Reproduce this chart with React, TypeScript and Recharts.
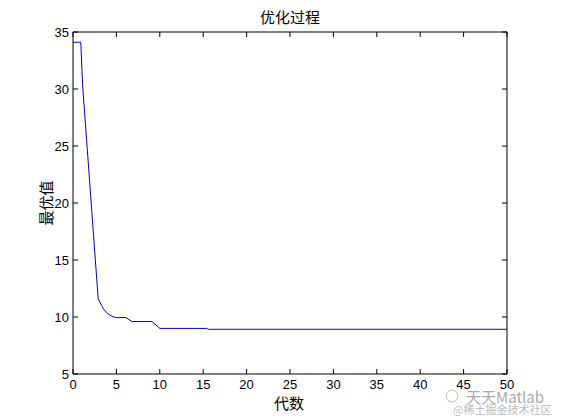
import { LineChart, Line, XAxis, YAxis } from "recharts"

// generation (x) and best value (y)
const gens = [0, 0.9, 1.1, 2.9, 3.3, 3.5, 4, 4.5, 5, 6.1, 6.8, 9.1, 10, 15.4, 15.6, 50]
const best = [34.1, 34.1, 30.4, 11.6, 11.0, 10.7, 10.3, 10.05, 9.95, 9.95, 9.6, 9.6, 9.0, 9.0, 8.92, 8.92]

const xTicks = [0, 5, 10, 15, 20, 25, 30, 35, 40, 45, 50]
const yTicks = [5, 10, 15, 20, 25, 30, 35]

const data = gens.map((g, i) => ({ gen: g, best: best[i] }))

const numFont = "Liberation Sans, Arial, sans-serif"
const cjk = "Noto Sans CJK SC, sans-serif"

// matlab style: tick marks point into the plot
const BottomTick = (p: any) => (
  <g>
    <line x1={p.x} x2={p.x} y1={p.y} y2={p.y - 5} stroke="#000" />
    <text x={p.x} y={p.y + 6} dy="0.71em" textAnchor="middle" fontSize={13} fontFamily={numFont} fill="#000">
      {p.payload.value}
    </text>
  </g>
)
const TopTick = (p: any) => <line x1={p.x} x2={p.x} y1={p.y} y2={p.y + 5} stroke="#000" />
const LeftTick = (p: any) => (
  <g>
    <line x1={p.x} x2={p.x + 5} y1={p.y} y2={p.y} stroke="#000" />
    <text x={p.x - 4} y={p.y} dy="0.355em" textAnchor="end" fontSize={13} fontFamily={numFont} fill="#000">
      {p.payload.value}
    </text>
  </g>
)
const RightTick = (p: any) => <line x1={p.x} x2={p.x - 5} y1={p.y} y2={p.y} stroke="#000" />

export default function App() {
  return (
    <div style={{ position: "absolute", left: 0, top: 0, width: 561, height: 420, background: "#fff" }}>
      <LineChart width={561} height={420} data={data} margin={{ top: 31, right: 53, bottom: 0, left: 0 }}>
        <XAxis
          dataKey="gen"
          type="number"
          domain={[0, 50]}
          ticks={xTicks}
          height={46}
          stroke="#000"
          tickLine={false}
          tickSize={0}
          tickMargin={0}
          tick={<BottomTick />}
          allowDataOverflow
        />
        <XAxis
          xAxisId="top"
          dataKey="gen"
          orientation="top"
          type="number"
          domain={[0, 50]}
          ticks={xTicks}
          height={1}
          stroke="#000"
          tickLine={false}
          tickSize={0}
          tickMargin={0}
          tick={<TopTick />}
          allowDataOverflow
        />
        <YAxis
          type="number"
          domain={[5, 35]}
          ticks={yTicks}
          width={73}
          stroke="#000"
          tickLine={false}
          tickSize={0}
          tickMargin={0}
          tick={<LeftTick />}
          allowDataOverflow
        />
        <YAxis
          yAxisId="right"
          orientation="right"
          type="number"
          domain={[5, 35]}
          ticks={yTicks}
          width={1}
          stroke="#000"
          tickLine={false}
          tickSize={0}
          tickMargin={0}
          tick={<RightTick />}
          allowDataOverflow
        />
        {/* invisible copy so the top/right axes (box) get drawn */}
        <Line
          xAxisId="top"
          yAxisId="right"
          type="linear"
          dataKey="best"
          stroke="none"
          dot={false}
          activeDot={false}
          isAnimationActive={false}
        />
        <Line
          type="linear"
          dataKey="best"
          stroke="#0000cc"
          strokeWidth={1}
          dot={false}
          activeDot={false}
          isAnimationActive={false}
        />
        <text x={290} y={16} textAnchor="middle" dominantBaseline="central" fontSize={15} fontFamily={cjk} fill="#000">
          优化过程
        </text>
        <text x={289} y={402} textAnchor="middle" dominantBaseline="central" fontSize={15} fontFamily={cjk} fill="#000">
          代数
        </text>
        <text
          x={45}
          y={203}
          textAnchor="middle"
          dominantBaseline="central"
          fontSize={15}
          fontFamily={cjk}
          fill="#000"
          transform="rotate(-90 45 203)"
        >
          最优值
        </text>
        <circle cx={452} cy={396} r={6} fill="none" stroke="#bbb" strokeWidth={1} />
        <text x={466} y={396} dominantBaseline="central" fontSize={15} fontFamily={cjk} fill="#aaa">
          天天Matlab
        </text>
        <text x={453} y={409} dominantBaseline="central" fontSize={11} fontFamily={cjk} fill="#bbb">
          @稀土掘金技术社区
        </text>
      </LineChart>
    </div>
  )
}
